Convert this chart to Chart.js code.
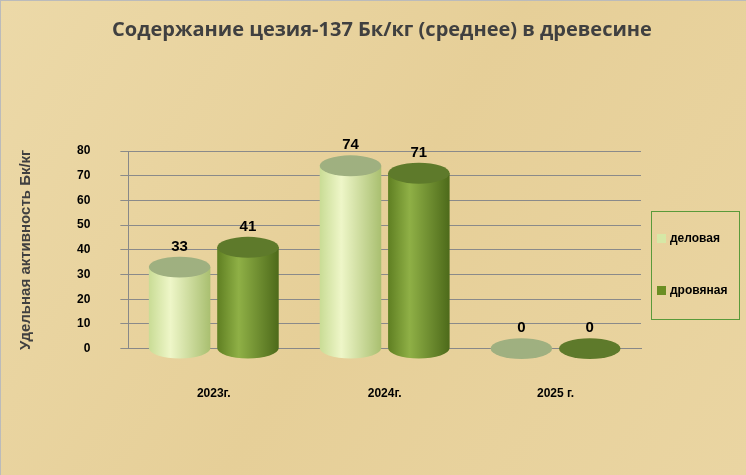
<!DOCTYPE html>
<html><head><meta charset="utf-8">
<script src="https://cdn.jsdelivr.net/npm/chart.js@4/dist/chart.umd.min.js"></script>
<style>html,body{margin:0;padding:0;}body{width:746px;height:475px;background:#e9d5a3;}
#w{position:absolute;left:0;top:0;width:746px;height:475px;border:1px solid #bbb;box-sizing:border-box;}</style>
</head><body><div id="w"><canvas id="c" width="746" height="475"></canvas></div>
<script>
const categories=["2023г.","2024г.","2025 г."];
const delovaya=[33,74,0];
const drovyanaya=[41,71,0];
const seriesNames=["деловая","дровяная"];
const seriesColors=["#d6e8a6","#6b8e23"];
const title="Содержание цезия-137 Бк/кг (среднее) в древесине";
const yTitle="Удельная активность Бк/кг";

const bgPlugin={id:'bg',beforeDraw(ch){const c=ch.ctx;c.save();
 const g=c.createLinearGradient(0,0,746,475);g.addColorStop(0,'#ecd9a8');g.addColorStop(0.5,'#e6cf98');g.addColorStop(1,'#ead5a2');
 c.fillStyle=g;c.fillRect(0,0,ch.width,ch.height);c.restore();},
 afterDraw(ch){const c=ch.ctx;c.save();
  c.font='bold 20px "Open Sans",Arial';c.fillStyle='#404040';c.textAlign='center';c.textBaseline='middle';c.fillText(title,381,29);
  c.textAlign='left';
  c.strokeStyle='#5a9a3a';c.lineWidth=1;c.strokeRect(650.5,210.5,88,108);
  c.font='bold 12px "Liberation Sans"';
  seriesNames.forEach((n,i)=>{const y=238+i*52;c.fillStyle=seriesColors[i];c.fillRect(656,y-5,9,9);c.fillStyle='#000';c.fillText(n,669,y);});
  c.restore();}};

const cyl={id:'cyl',afterDatasetsDraw(ch){const c=ch.ctx;
 const cols=[["#c9dc95","#eef6c8","#a9bf70","#9fb080"],["#5f7f22","#8fb046","#4d6a1a","#5e7a2b"]];
 ch.data.datasets.forEach((ds,di)=>{const meta=ch.getDatasetMeta(di);
  meta.data.forEach((b,i)=>{const w=b.width,x=b.x-w/2,top=b.y,bot=b.base,rx=w/2,ry=w*0.17;
   const col=cols[di];c.save();
   const g=c.createLinearGradient(x,0,x+w,0);g.addColorStop(0,col[0]);g.addColorStop(0.35,col[1]);g.addColorStop(1,col[2]);
   if(bot-top>1){c.fillStyle=g;c.beginPath();c.moveTo(x,top);c.lineTo(x,bot);
    c.ellipse(b.x,bot,rx,ry,0,Math.PI,0,true);c.lineTo(x+w,top);c.closePath();c.fill();}
   c.fillStyle=col[3];c.beginPath();c.ellipse(b.x,top,rx,ry,0,0,Math.PI*2);c.fill();
   c.fillStyle='#000';c.font='bold 15px "Liberation Sans",Arial';c.textAlign='center';
   c.fillText(ds.data[i],b.x,top-ry-6);
   c.restore();});});}};

new Chart(document.getElementById('c'),{type:'bar',
 data:{labels:categories,datasets:[
  {label:seriesNames[0],data:delovaya,backgroundColor:'rgba(0,0,0,0)',borderWidth:0},
  {label:seriesNames[1],data:drovyanaya,backgroundColor:'rgba(0,0,0,0)',borderWidth:0}]},
 options:{responsive:false,animation:false,
  layout:{padding:{left:12,right:106,top:150,bottom:45}},
  plugins:{title:{display:false},legend:{display:false},tooltip:{enabled:false}},
  scales:{x:{grid:{display:false},border:{color:'#888'},ticks:{color:'#000',padding:30,font:{size:12,weight:'bold',family:'"Liberation Sans"'}},categoryPercentage:0.6,barPercentage:0.75},
   y:{min:0,max:80,ticks:{stepSize:10,padding:30,color:'#000',font:{size:12,weight:'bold',family:'"Liberation Sans"'}},grid:{color:'#8a8a8a'},border:{color:'#888'},
    title:{display:true,text:yTitle,color:'#404040',padding:{bottom:12},font:{size:15,weight:'bold',family:'"Liberation Sans"'}}}}},
 plugins:[bgPlugin,cyl]});
</script></body></html>
